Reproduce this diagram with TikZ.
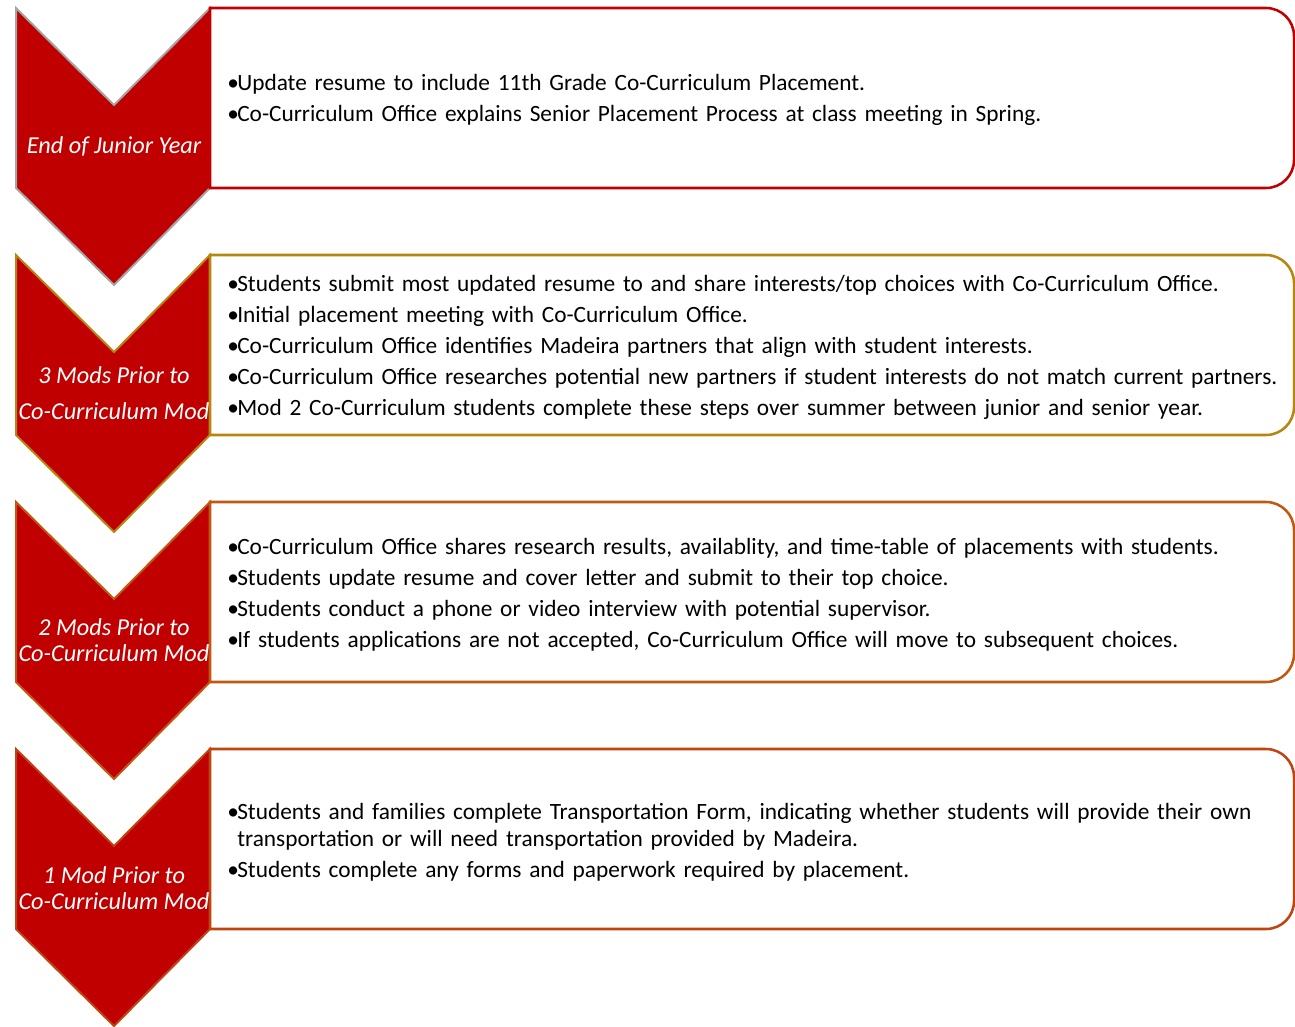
\documentclass[tikz,border=0pt]{standalone}
\usepackage{fontspec}
\setmainfont{Carlito}
\usepackage{tikz}

\definecolor{stepred}{HTML}{C00000}
\definecolor{chevgray}{HTML}{A5A5A5}
\definecolor{stepgold}{HTML}{B8860F}
\definecolor{steporange}{HTML}{C2570F}
\definecolor{steprust}{HTML}{BF440F}

\newlength{\bulletwd}
\setlength{\bulletwd}{7.5pt}
\newcommand{\bitem}[1]{\par\hangindent=\bulletwd\hangafter=1\noindent
    \makebox[\bulletwd][l]{\textbullet}#1}

\tikzstyle{chev}=[
    fill=stepred,
    line width=1.5pt,
    line join=miter
]
\tikzstyle{plate}=[
    fill=white,
    line width=1.9pt
]
\tikzstyle{steplbl}=[
    inner sep=0mm,
    text=white,
    align=center,
    font=\itshape\fontsize{18.2pt}{19.5pt}\selectfont
]
\tikzstyle{steptxt}=[
    inner sep=0mm,
    anchor=west,
    text width=802pt,
    align=left,
    font=\fontsize{17.5pt}{20.25pt}\selectfont,
    execute at begin node=\setlength{\parskip}{3pt}
]

\begin{document}
\begin{tikzpicture}[x=0.75pt, y=-0.75pt]
\useasboundingbox (0,0) rectangle (1295,1027);

\foreach \i/\ccol/\bcol in {1/chevgray/stepred, 2/stepgold/stepgold,
                            3/steporange/steporange, 4/steprust/steprust}{
    \pgfmathsetmacro{\t}{8+247*(\i-1)}
    % chevron
    \draw[chev, draw=\ccol] (16,\t) -- (114,\t+97) -- (210,\t) -- (210,\t+180)
        -- (114,\t+277) -- (16,\t+180) -- cycle;
    % box, rounded on the right only
    \draw[plate, draw=\bcol] (210,\t) -- (1266,\t) arc(-90:0:28)
        -- (1294,\t+152) arc(0:90:28) -- (210,\t+180) -- cycle;
}

\node[steplbl] (lbl1) at (114,146) {End of Junior Year};
\node[steplbl] (lbl2) at (114,393) {3 Mods Prior to\\[7pt]Co-Curriculum Mod};
\node[steplbl] (lbl3) at (114,640) {2 Mods Prior to\\Co-Curriculum Mod};
\node[steplbl] (lbl4) at (114,888) {1 Mod Prior to\\Co-Curriculum Mod};

\node[steptxt] (txt1) at (227,93) {%
    \bitem{Update resume to include 11th Grade Co-Curriculum Placement.}
    \bitem{Co-Curriculum Office explains Senior Placement Process at class meeting in Spring.}};
\node[steptxt] (txt2) at (227,340) {%
    \bitem{Students submit most updated resume to and share interests/top choices with Co-Curriculum Office.}
    \bitem{Initial placement meeting with Co-Curriculum Office.}
    \bitem{Co-Curriculum Office identifies Madeira partners that align with student interests.}
    \bitem{Co-Curriculum Office researches potential new partners if student interests do not match current partners.}
    \bitem{Mod 2 Co-Curriculum students complete these steps over summer between junior and senior year.}};
\node[steptxt] (txt3) at (227,587.5) {%
    \bitem{Co-Curriculum Office shares research results, availablity, and time-table of placements with students.}
    \bitem{Students update resume and cover letter and submit to their top choice.}
    \bitem{Students conduct a phone or video interview with potential supervisor.}
    \bitem{If students applications are not accepted, Co-Curriculum Office will move to subsequent choices.}};
\node[steptxt] (txt4) at (227,835) {%
    \bitem{Students and families complete Transportation Form, indicating whether students will provide their own\newline
        transportation or will need transportation provided by Madeira.}
    \bitem{Students complete any forms and paperwork required by placement.}};

\end{tikzpicture}
\end{document}
